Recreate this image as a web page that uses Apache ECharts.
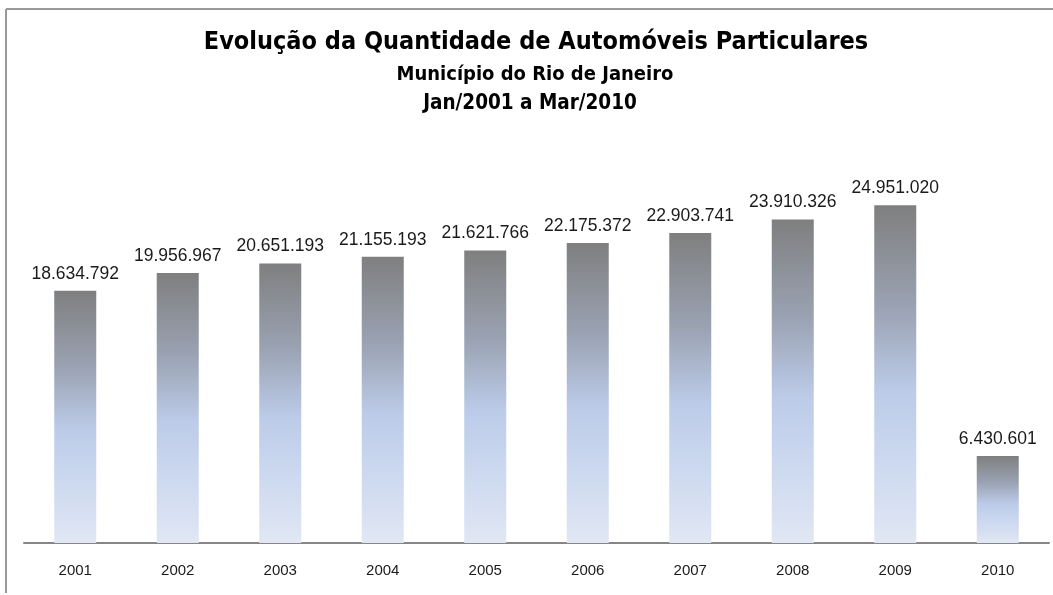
<!DOCTYPE html>
<html lang="pt">
<head>
    <meta charset="UTF-8">
    <title>Automóveis Particulares</title>
    <script src="https://cdn.jsdelivr.net/npm/echarts@6/dist/echarts.min.js"></script>
    <style>
        html, body { margin: 0; padding: 0; background: #fff; }
    </style>
</head>
<body>
<div id="main" style="width: 1053px; height: 595px;"></div>
</body>
<script>
    // dados
    var anos = ['2001', '2002', '2003', '2004', '2005', '2006', '2007', '2008', '2009', '2010']
    var quantidade = [18634792, 19956967, 20651193, 21155193, 21621766, 22175372, 22903741, 23910326, 24951020, 6430601]
    var titulo = 'Evolução da Quantidade de Automóveis Particulares'
    var subtitulo1 = 'Município do Rio de Janeiro'
    var subtitulo2 = 'Jan/2001 a Mar/2010'

    var fonteTitulo = '"DejaVu Sans Condensed", "Liberation Sans Narrow", sans-serif'

    // formato 18.634.792
    function milhar(v) {
        return String(v).replace(/\B(?=(\d{3})+(?!\d))/g, '.')
    }

    var myChart = echarts.init(document.getElementById('main'))
    var option = {
        animation: false,
        backgroundColor: '#fff',
        graphic: [
            // moldura (só topo e esquerda aparecem)
            { type: 'line', shape: { x1: 6, y1: 9, x2: 1053, y2: 9 }, style: { stroke: '#999', lineWidth: 2 } },
            { type: 'line', shape: { x1: 6, y1: 9, x2: 6, y2: 593 }, style: { stroke: '#999', lineWidth: 2 } },
            {
                type: 'text', x: 536, y: 55,
                style: { text: titulo, fill: '#000', fontFamily: fonteTitulo, fontWeight: 'bold', fontSize: 25, textAlign: 'center', textVerticalAlign: 'bottom' }
            },
            {
                type: 'text', x: 535, y: 85,
                style: { text: subtitulo1, fill: '#000', fontFamily: fonteTitulo, fontWeight: 'bold', fontSize: 20, textAlign: 'center', textVerticalAlign: 'bottom' }
            },
            {
                type: 'text', x: 530, y: 114,
                style: { text: subtitulo2, fill: '#000', fontFamily: fonteTitulo, fontWeight: 'bold', fontSize: 20.5, textAlign: 'center', textVerticalAlign: 'bottom' }
            }
        ],
        grid: {
            left: 24,
            right: 4,
            top: 137,
            bottom: 52,
            containLabel: false
        },
        xAxis: {
            type: 'category',
            data: anos,
            axisLine: { show: true, lineStyle: { color: '#868686', width: 2 } },
            axisTick: { show: false },
            axisLabel: { color: '#1a1a1a', fontSize: 15, margin: 20, fontFamily: 'Liberation Sans, Arial, sans-serif' }
        },
        yAxis: {
            type: 'value',
            min: 0,
            max: 30000000,
            show: false,
            splitLine: { show: false }
        },
        series: [
            {
                type: 'bar',
                data: quantidade,
                barWidth: 42,
                itemStyle: {
                    color: new echarts.graphic.LinearGradient(0, 0, 0, 1, [
                        { offset: 0, color: '#7f7f7f' },
                        { offset: 0.3, color: '#9aa2b2' },
                        { offset: 0.55, color: '#bccbe8' },
                        { offset: 0.75, color: '#cbd8ef' },
                        { offset: 1, color: '#e1e7f4' }
                    ])
                },
                label: {
                    show: true,
                    position: 'top',
                    distance: 8,
                    color: '#1a1a1a',
                    fontSize: 17.5,
                    fontFamily: 'Liberation Sans, Arial, sans-serif',
                    formatter: function (p) { return milhar(p.value) }
                }
            }
        ]
    };
    myChart.setOption(option);
</script>
</html>
